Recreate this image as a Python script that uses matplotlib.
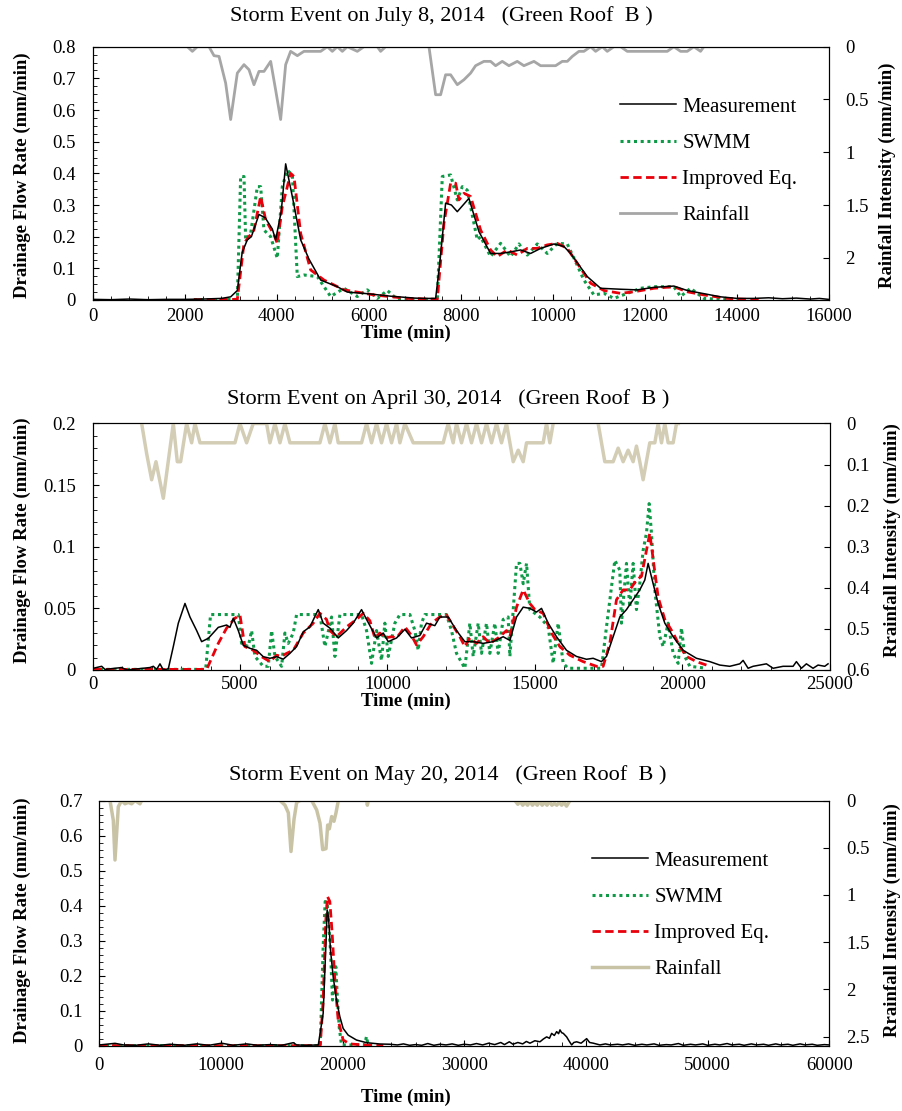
import numpy as np
import matplotlib
matplotlib.use("Agg")
import matplotlib.pyplot as plt
from matplotlib.ticker import AutoMinorLocator, FuncFormatter, MultipleLocator

plt.rcParams["font.family"] = ["Liberation Serif", "DejaVu Serif"]

# ---------------- July 8, 2014 ----------------
jul_meas_t = [0, 400, 800, 1200, 1600, 2000, 2400, 2800, 3000, 3145, 3250, 3362, 3450, 3616, 3750,
              3906, 3978, 4100, 4196, 4350, 4522, 4700, 4957, 5319, 5536, 5971, 6478, 7000, 7203,
              7457, 7550, 7674, 7800, 7928, 8181, 8399, 8652, 8870, 9087, 9305, 9522, 9740, 10030,
              10247, 10392, 10754, 11044, 11479, 11841, 12204, 12638, 12928, 13290, 13652, 14015,
              14377, 14700, 15000, 15300, 15600, 15800, 16000]
jul_meas_q = [0.002, 0.001, 0.003, 0.001, 0.002, 0.002, 0.003, 0.005, 0.01, 0.03, 0.15, 0.19, 0.20,
              0.27, 0.26, 0.224, 0.19, 0.28, 0.43, 0.32, 0.19, 0.13, 0.063, 0.042, 0.025, 0.02,
              0.012, 0.006, 0.005, 0.005, 0.12, 0.306, 0.30, 0.279, 0.321, 0.216, 0.147, 0.147,
              0.152, 0.158, 0.147, 0.163, 0.177, 0.169, 0.147, 0.074, 0.037, 0.034, 0.032, 0.04,
              0.044, 0.03, 0.02, 0.01, 0.005, 0.005, 0.007, 0.004, 0.006, 0.003, 0.005, 0.002]

jul_swmm_t = [2200, 3145, 3217, 3290, 3326, 3435, 3580, 3652, 3724, 3869, 4014, 4123, 4232, 4341,
              4449, 4594, 4884, 5174, 5464, 5754, 5971, 6189, 6406, 6623, 7493, 7602, 7783, 7928,
              8037, 8145, 8363, 8435, 8652, 8870, 9087, 9269, 9450, 9667, 9885, 10102, 10320,
              10465, 10682, 10899, 11117, 11334, 11624, 11914, 12204, 12638, 12783, 13000, 13290,
              13652, 14150]
jul_swmm_q = [0.001, 0.002, 0.39, 0.39, 0.19, 0.21, 0.358, 0.358, 0.221, 0.2, 0.132, 0.358, 0.41,
              0.395, 0.074, 0.079, 0.074, 0.011, 0.037, 0.011, 0.032, 0.005, 0.03, 0.002, 0.002,
              0.39, 0.395, 0.316, 0.358, 0.347, 0.19, 0.2, 0.137, 0.179, 0.137, 0.177, 0.142,
              0.177, 0.147, 0.179, 0.177, 0.132, 0.063, 0.016, 0.021, 0.005, 0.021, 0.037, 0.042,
              0.042, 0.011, 0.037, 0.005, 0.002, 0.001]

jul_impr_t = [2200, 3145, 3290, 3507, 3652, 3761, 3942, 4014, 4123, 4304, 4377, 4522, 4740, 5030,
              5464, 6116, 6841, 7493, 7638, 7783, 7892, 7964, 8073, 8217, 8435, 8652, 8797, 9015,
              9232, 9450, 9667, 9885, 10102, 10320, 10537, 10827, 11117, 11479, 11769, 12204,
              12638, 12928, 13290, 13797, 14232, 14500]
jul_impr_q = [0.001, 0.002, 0.179, 0.221, 0.327, 0.253, 0.206, 0.179, 0.295, 0.40, 0.39, 0.21,
              0.095, 0.063, 0.032, 0.016, 0.005, 0.002, 0.242, 0.369, 0.369, 0.316, 0.337, 0.327,
              0.221, 0.158, 0.137, 0.158, 0.142, 0.163, 0.163, 0.174, 0.179, 0.163, 0.116, 0.053,
              0.03, 0.021, 0.026, 0.037, 0.042, 0.026, 0.016, 0.005, 0.002, 0.001]

jul_rain_t = [0, 2058, 2167, 2275, 2529, 2638, 2747, 2891, 3000, 3145, 3290, 3399, 3507, 3616,
              3725, 3870, 3978, 4087, 4196, 4304, 4450, 4594, 4957, 5102, 5210, 5319, 5428, 5536,
              5754, 5899, 6189, 6261, 6370, 7312, 7457, 7566, 7674, 7783, 7928, 8073, 8218, 8326,
              8507, 8652, 8761, 8906, 9051, 9232, 9377, 9595, 9740, 10066, 10211, 10320, 10429,
              10573, 10682, 10827, 10936, 11081, 11189, 11334, 11479, 11624, 12494, 12638, 12783,
              12928, 13073, 13218, 13290, 16000]
jul_rain_i = [0, 0, 0.044, 0, 0, 0.085, 0.092, 0.345, 0.69, 0.25, 0.17, 0.218, 0.36, 0.234, 0.234,
              0.139, 0.41, 0.69, 0.17, 0.044, 0.085, 0.044, 0.044, 0, 0.044, 0, 0.044, 0, 0.044,
              0, 0, 0.044, 0, 0, 0.455, 0.455, 0.266, 0.266, 0.36, 0.313, 0.25, 0.18, 0.139,
              0.139, 0.18, 0.139, 0.18, 0.139, 0.18, 0.139, 0.18, 0.18, 0.139, 0.139, 0.092,
              0.044, 0.044, 0, 0.044, 0, 0.044, 0, 0, 0.044, 0.044, 0, 0.044, 0.044, 0, 0.044,
              0, 0]

# ---------------- April 30, 2014 ----------------
apr_meas_t = [21, 304, 417, 983, 1152, 1944, 2057, 2170, 2283, 2396, 2566, 2735, 2905, 3131, 3300,
              3527, 3696, 3922, 4261, 4544, 4657, 4770, 4940, 5109, 5335, 5561, 5787, 6013, 6240,
              6466, 6692, 6918, 7144, 7370, 7653, 7822, 8048, 8331, 8613, 8839, 9122, 9292, 9631,
              9857, 10027, 10310, 10592, 10818, 11100, 11327, 11609, 11779, 12062, 12344, 12627,
              12910, 13249, 13588, 13927, 14155, 14381, 14607, 14833, 15059, 15228, 15454, 15737,
              16076, 16415, 16754, 16980, 17263, 17433, 17659, 17885, 18111, 18337, 18563, 18733,
              18846, 19016, 19186, 19412, 19695, 20034, 20486, 20938, 21277, 21616, 21956, 22069,
              22238, 22408, 22860, 23086, 23425, 23764, 23877, 24047, 24216, 24442, 24612, 24838,
              24951]
apr_meas_q = [0.0014, 0.003, 0.0005, 0.002, 0.0, 0.002, 0.003, 0.0005, 0.005, 0.0, 0.001, 0.019,
              0.038, 0.054, 0.043, 0.032, 0.023, 0.0257, 0.0346, 0.0365, 0.0346, 0.042, 0.032,
              0.020, 0.0176, 0.016, 0.0108, 0.0095, 0.0108, 0.0088, 0.0135, 0.019, 0.031, 0.035,
              0.049, 0.038, 0.034, 0.026, 0.032, 0.038, 0.049, 0.041, 0.026, 0.030, 0.023, 0.026,
              0.033, 0.026, 0.028, 0.038, 0.036, 0.043, 0.043, 0.032, 0.023, 0.023, 0.0216, 0.023,
              0.027, 0.024, 0.043, 0.051, 0.050, 0.047, 0.050, 0.038, 0.027, 0.016, 0.011, 0.0087,
              0.0095, 0.0068, 0.011, 0.027, 0.043, 0.049, 0.057, 0.065, 0.073, 0.0865, 0.070,
              0.054, 0.038, 0.027, 0.016, 0.0095, 0.0068, 0.004, 0.003, 0.005, 0.0078, 0.0014,
              0.003, 0.005, 0.0014, 0.003, 0.003, 0.0068, 0.0014, 0.005, 0.0014, 0.004, 0.003,
              0.005]

apr_swmm_t = [21, 3833, 4000, 4940, 5052, 5278, 5391, 5504, 5787, 5957, 6070, 6183, 6409, 6522,
              6635, 6805, 6918, 7709, 7879, 8105, 8218, 8387, 9122, 9292, 9461, 9631, 9800, 9913,
              10027, 10253, 10423, 10762, 10931, 11044, 11157, 11270, 12005, 12175, 12344, 12627,
              12797, 12910, 13080, 13193, 13362, 13475, 13645, 13758, 13927, 14096, 14155, 14381,
              14494, 14607, 14720, 14833, 15172, 15454, 15624, 15793, 15963, 16132, 17263, 17433,
              17716, 17885, 17941, 18111, 18224, 18337, 18450, 18563, 18676, 18789, 18880, 18959,
              19073, 19243, 19355, 19525, 19695, 19864, 19977, 20090, 20260, 20825]
apr_swmm_q = [0.0005, 0.0005, 0.045, 0.045, 0.0216, 0.019, 0.032, 0.011, 0.003, 0.003, 0.032,
              0.011, 0.003, 0.030, 0.0216, 0.030, 0.045, 0.045, 0.019, 0.043, 0.011, 0.045,
              0.045, 0.032, 0.0054, 0.032, 0.0078, 0.038, 0.011, 0.038, 0.045, 0.045, 0.032,
              0.016, 0.038, 0.045, 0.045, 0.032, 0.0135, 0.0014, 0.038, 0.011, 0.038, 0.0135,
              0.038, 0.0135, 0.038, 0.0135, 0.041, 0.043, 0.011, 0.0865, 0.0865, 0.070, 0.0865,
              0.049, 0.043, 0.035, 0.0054, 0.038, 0.0054, 0.0014, 0.0014, 0.035, 0.089, 0.081,
              0.038, 0.0865, 0.051, 0.0865, 0.049, 0.070, 0.097, 0.111, 0.135, 0.111, 0.065,
              0.027, 0.019, 0.038, 0.0135, 0.0054, 0.034, 0.011, 0.003, 0.0014]

apr_impr_t = [21, 3867, 4261, 4544, 4827, 4996, 5165, 5448, 5731, 6013, 6240, 6409, 6579, 6805,
              7144, 7483, 7709, 7935, 8048, 8274, 8613, 8952, 9178, 9405, 9574, 9744, 9913, 10140,
              10310, 10592, 10818, 10988, 11214, 11497, 11779, 12005, 12175, 12457, 12627, 12797,
              13023, 13249, 13475, 13758, 14040, 14155, 14381, 14607, 14833, 15002, 15285, 15567,
              15850, 16189, 16641, 17093, 17320, 17546, 17772, 17998, 18224, 18450, 18620, 18789,
              18902, 19016, 19186, 19412, 19695, 19921, 20147, 20486, 20825]
apr_impr_q = [0.0005, 0.0005, 0.0216, 0.034, 0.042, 0.0446, 0.019, 0.016, 0.0108, 0.0068, 0.012,
              0.011, 0.0135, 0.016, 0.030, 0.038, 0.046, 0.041, 0.032, 0.027, 0.035, 0.041, 0.046,
              0.040, 0.026, 0.030, 0.026, 0.027, 0.026, 0.035, 0.028, 0.0203, 0.027, 0.038, 0.043,
              0.0446, 0.038, 0.027, 0.019, 0.026, 0.0216, 0.027, 0.0216, 0.026, 0.032, 0.027,
              0.051, 0.065, 0.054, 0.049, 0.046, 0.030, 0.019, 0.012, 0.0068, 0.003, 0.003,
              0.0216, 0.057, 0.065, 0.065, 0.073, 0.076, 0.097, 0.111, 0.090, 0.059, 0.041,
              0.030, 0.019, 0.011, 0.0068, 0.004]

apr_rain_t = [1661, 1830, 2000, 2147, 2396, 2735, 2870, 2983, 3187, 3357, 3470, 3640, 4827, 4996,
              5222, 5448, 5900, 6013, 6183, 6353, 6522, 6692, 7709, 7879, 8048, 8218, 8331, 9122,
              9292, 9461, 9631, 9800, 9970, 10140, 10310, 10423, 10592, 10875, 11892, 12062,
              12231, 12344, 12514, 12684, 12853, 13023, 13193, 13362, 13532, 13701, 13871, 14040,
              14155, 14268, 14438, 14607, 14720, 15285, 15398, 15511, 15624, np.nan,
              17150, 17376, 17659, 17829, 17998, 18168, 18337, 18450, 18563, 18676, 18902, 19073,
              19186, 19299, 19412, 19525, 19695, 19808, 19870]
apr_rain_i = [0, 0.073, 0.137, 0.093, 0.182, 0, 0.093, 0.093, 0, 0.047, 0, 0.047, 0.047, 0,
              0.047, 0, 0, 0.047, 0, 0.047, 0, 0.047, 0.047, 0, 0.047, 0, 0.047, 0.047, 0, 0.047,
              0, 0.047, 0, 0.047, 0, 0.047, 0, 0.047, 0.047, 0, 0.047, 0, 0.047, 0, 0.047, 0,
              0.047, 0, 0.047, 0, 0.047, 0, 0.047, 0.093, 0.065, 0.093, 0.047, 0.047, 0, 0.047,
              0, np.nan, 0, 0.093, 0.093, 0.06, 0.093, 0.065, 0.093, 0.055, 0.093, 0.137, 0.047,
              0.047, 0, 0.047, 0, 0.047, 0.047, 0, 0]

# ---------------- May 20, 2014 ----------------
may_meas_t = [0, 1290, 2000, 3000, 4030, 5000, 5810, 7000, 8002, 9000, 10057, 11000, 12112, 13000,
              14030, 15000, 15948, 16222, 17000, 18000, 18400, 18619, 18728, 18838, 19002, 19221,
              19495, 19769, 20043, 20454, 21139, 21961, 23057, 23878, 24500, 25000, 25500, 26000,
              26500, 27000, 27500, 28000, 28500, 29000, 29500, 30000, 30500, 31000, 31500, 32000,
              32500, 33000, 33300, 33700, 34000, 34400, 34800, 35100, 35398, 35800, 36220, 36500,
              36768, 37000, 37179, 37400, 37590, 37750, 37864, 38000, 38138, 38300, 38412, 38600,
              38823, 39000, 39234, 39600, 40056, 40300, 40604, 41152, 41600, 42000, 42600, 43000,
              43500, 44000, 44600, 45000, 45600, 46000, 46600, 47000, 47600, 48000, 48600, 49000,
              49600, 50000, 50600, 51000, 51600, 52000, 52600, 53000, 53600, 54000, 54600, 55000,
              55600, 56000, 56600, 57000, 57600, 58000, 58600, 59000, 59600, 60000]
may_meas_q = [0.003, 0.0076, 0.003, 0.002, 0.006, 0.002, 0.005, 0.002, 0.006, 0.002, 0.008, 0.002,
              0.006, 0.002, 0.004, 0.002, 0.0095, 0.003, 0.002, 0.003, 0.093, 0.283, 0.388, 0.369,
              0.274, 0.198, 0.131, 0.084, 0.05, 0.031, 0.017, 0.0095, 0.0057, 0.005, 0.003, 0.006,
              0.002, 0.004, 0.002, 0.007, 0.002, 0.005, 0.003, 0.006, 0.002, 0.005, 0.003, 0.007,
              0.003, 0.008, 0.004, 0.01, 0.004, 0.012, 0.005, 0.01, 0.006, 0.013, 0.008, 0.015,
              0.012, 0.02, 0.026, 0.022, 0.036, 0.03, 0.041, 0.035, 0.046, 0.038, 0.036, 0.03,
              0.026, 0.015, 0.003, 0.01, 0.012, 0.008, 0.021, 0.01, 0.008, 0.003, 0.006, 0.003,
              0.005, 0.003, 0.006, 0.002, 0.005, 0.003, 0.006, 0.002, 0.004, 0.003, 0.007, 0.002,
              0.005, 0.003, 0.006, 0.002, 0.005, 0.003, 0.007, 0.003, 0.005, 0.002, 0.006, 0.003,
              0.005, 0.002, 0.006, 0.003, 0.005, 0.002, 0.006, 0.003, 0.005, 0.002, 0.004, 0.003]

may_swmm_t = [0, 18160, 18400, 18564, 18728, 19002, 19167, 19440, 19550, 19714, 19906, 21800,
              21961, 22100, 22500]
may_swmm_q = [0.001, 0.001, 0.283, 0.412, 0.408, 0.274, 0.131, 0.226, 0.15, 0.055, 0.003, 0.003,
              0.027, 0.002, 0.001]

may_impr_t = [0, 18160, 18400, 18619, 18756, 18948, 19140, 19359, 19632, 20043, 20591, 21687,
              23342]
may_impr_q = [0.001, 0.001, 0.131, 0.359, 0.426, 0.412, 0.321, 0.188, 0.074, 0.017, 0.006, 0.003,
              0.001]

may_rain_t = [879, 1151, 1290, 1562, 1836, 2110, 2384, 2658, 2932, 3343, 3480, np.nan,
              14852, 15263, 15537, 15756, 16003, 16222, 16496, np.nan,
              17455, 17866, 18140, 18359, 18633, 18770, 18907, 19099, 19290, 19455, 19647, np.nan,
              21977, 22032, 22114, np.nan,
              34166, 34400, 34600, 34800, 35000, 35200, 35400, 35600, 35800, 36000, 36200, 36400,
              36600, 36800, 37000, 37200, 37400, 37600, 37800, 38000, 38200, 38400, 38686]
may_rain_i = [0, 0.21, 0.63, 0.066, 0, 0.035, 0.02, 0.035, 0, 0.035, 0, np.nan,
              0, 0.05, 0.13, 0.54, 0.2, 0.02, 0, np.nan,
              0, 0.1, 0.24, 0.52, 0.51, 0.26, 0.3, 0.17, 0.22, 0.13, 0, np.nan,
              0, 0.05, 0, np.nan,
              0, 0.04, 0.01, 0.05, 0.02, 0.05, 0.01, 0.05, 0.02, 0.05, 0.01, 0.05,
              0.02, 0.05, 0.01, 0.05, 0.03, 0.05, 0.02, 0.05, 0.02, 0.06, 0]

W, H = 902, 1111
fig = plt.figure(figsize=(W / 100, H / 100), dpi=100)


def px_box(left, top, right, bottom):
    return [left / W, 1 - bottom / H, (right - left) / W, (bottom - top) / H]


def fmt(value, _pos):
    return f"{value:g}"


def make_panel(box, xmax, xmajor, ymax, ymajor, yminor_n, rmax, rmajor, rain_color, rain_lw,
               meas, swmm, impr, rain, title, title_xy, xlabel_y, xpad, ylabel_y, rlabel,
               rlabel_x):
    ax = fig.add_axes(px_box(*box))
    ax.plot(*meas, color="black", linewidth=1.1, label="Measurement", zorder=5)
    ax.plot(*swmm, color="#0f9a48", linewidth=2.2, linestyle=(0, (1, 1.2)), label="SWMM", zorder=3)
    ax.plot(*impr, color="#e8000b", linewidth=2.0, linestyle=(0, (3, 1.6)), label="Improved Eq.",
            zorder=4)
    ax.set_xlim(0, xmax)
    ax.set_ylim(0, ymax)
    ax.xaxis.set_major_locator(MultipleLocator(xmajor))
    ax.xaxis.set_minor_locator(AutoMinorLocator(5))
    ax.yaxis.set_major_locator(MultipleLocator(ymajor))
    ax.yaxis.set_minor_locator(AutoMinorLocator(yminor_n))
    ax.xaxis.set_major_formatter(FuncFormatter(fmt))
    ax.yaxis.set_major_formatter(FuncFormatter(fmt))
    ax.tick_params(which="both", direction="in", labelsize=13.5)
    ax.tick_params(axis="y", which="both", pad=12)
    ax.tick_params(axis="x", which="both", pad=xpad)
    ax.tick_params(which="major", length=4)
    ax.tick_params(which="minor", length=3)

    ax2 = ax.twinx()
    ax2.plot(*rain, color=rain_color, linewidth=rain_lw, label="Rainfall")
    ax2.set_ylim(rmax, 0)
    ax2.yaxis.set_major_locator(MultipleLocator(rmajor))
    ax2.yaxis.set_major_formatter(FuncFormatter(fmt))
    ax2.tick_params(direction="in", labelsize=13.5, pad=12, length=4)
    ax2.set_xlim(0, xmax)

    fig.text(title_xy[0] / W, 1 - title_xy[1] / H, title, ha="center", va="center", fontsize=16)
    fig.text(406 / W, 1 - xlabel_y / H, "Time (min)", ha="center", va="center", fontsize=13.5,
             fontweight="bold")
    fig.text(22 / W, 1 - ylabel_y / H, "Drainage Flow Rate (mm/min)", ha="center", va="center",
             rotation=90, fontsize=13.5, fontweight="bold")
    fig.text(rlabel_x / W, 1 - ylabel_y / H, rlabel, ha="center", va="center",
             rotation=90, fontsize=13.5, fontweight="bold")
    return ax, ax2


def add_legend(ax, ax2, anchor):
    handles = ax.get_legend_handles_labels()[0] + ax2.get_legend_handles_labels()[0]
    labels = ["Measurement", "SWMM", "Improved Eq.", "Rainfall"]
    ax2.legend(handles, labels, loc="upper left", bbox_to_anchor=anchor,
               bbox_transform=fig.transFigure, frameon=False, fontsize=15,
               handlelength=2.7, handletextpad=0.3, labelspacing=0.8, borderpad=0,
               borderaxespad=0)


ax1, ax1r = make_panel((92.7, 46.7, 828.5, 300), 16000, 2000, 0.8, 0.1, 4, 2.4, 0.5,
                       "#a6a6a6", 2.0,
                       (jul_meas_t, jul_meas_q), (jul_swmm_t, jul_swmm_q),
                       (jul_impr_t, jul_impr_q), (jul_rain_t, jul_rain_i),
                       "Storm Event on July 8, 2014   (Green Roof  B )", (441, 16), 333, 6, 175,
                       "Rainfall Intensity (mm/min)", 887)
add_legend(ax1, ax1r, (620 / W, 1 - 97 / H))

ax2_, ax2r = make_panel((92.7, 423.5, 829.5, 670), 25000, 5000, 0.2, 0.05, 5, 0.6, 0.1,
                        "#d3cdb6", 2.5,
                        (apr_meas_t, apr_meas_q), (apr_swmm_t, apr_swmm_q),
                        (apr_impr_t, apr_impr_q), (apr_rain_t, apr_rain_i),
                        "Storm Event on April 30, 2014   (Green Roof  B )", (448, 399), 701, 4,
                        540, "Rrainfall Intensity (mm/min)", 892)

ax3, ax3r = make_panel((99.3, 800.5, 829.3, 1046), 60000, 10000, 0.7, 0.1, 5, 2.6, 0.5,
                       "#c9c3a6", 2.5,
                       (may_meas_t, may_meas_q), (may_swmm_t, may_swmm_q),
                       (may_impr_t, may_impr_q), (may_rain_t, may_rain_i),
                       "Storm Event on May 20, 2014   (Green Roof  B )", (448, 775), 1097, 8, 920,
                       "Rrainfall Intensity (mm/min)", 892)
add_legend(ax3, ax3r, (592 / W, 1 - 851 / H))

fig.savefig("out.png", dpi=100)
